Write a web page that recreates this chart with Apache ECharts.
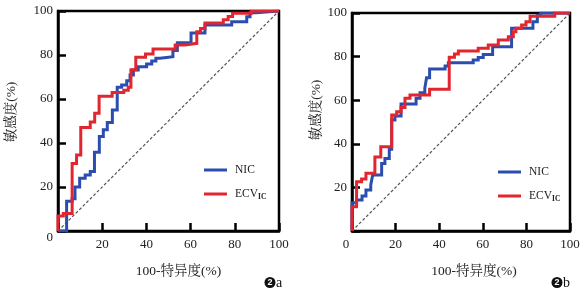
<!DOCTYPE html>
<html>
<head>
<meta charset="utf-8">
<script src="https://cdn.jsdelivr.net/npm/echarts@6/dist/echarts.min.js"></script>
<style>
html,body{margin:0;padding:0;background:#fff;}
#c{width:585px;height:289px;}
</style>
</head>
<body>
<div id="c"></div>
<script>
// ---- data ----
const seriesNames = ['NIC', 'ECV'];
const axisTicks = [0, 20, 40, 60, 80, 100];
const diagonal = [[0, 0], [100, 100]];
const panelLabels = ['a', 'b'];

// Panel a: NIC (blue)
const nicA = [[0,0],[3.9,0],[3.9,13.5],[6.4,13.5],[6.4,14.7],[7.7,14.7],[7.7,20],[9.8,20],[9.8,24],[12.3,24],[12.3,25.5],[14.6,25.5],[14.6,27],[16.5,27],[16.5,35.8],[18.7,35.8],[18.7,43],[20.5,43],[20.5,46],[22.3,46],[22.3,49.3],[24.6,49.3],[24.6,55],[26.8,55],[26.8,65.3],[28.8,65.3],[28.8,66.4],[31.1,66.4],[31.1,68.3],[32.6,68.3],[32.6,70.9],[34.1,70.9],[34.1,73.2],[36.3,73.2],[36.3,74.7],[40.1,74.7],[40.1,75.9],[42.4,75.9],[42.4,77.3],[44.3,77.3],[44.3,78.5],[46.2,78.5],[46.2,79.2],[52,79.2],[52,82],[54,82],[54,85.6],[60.2,85.6],[60.2,90],[66.5,90],[66.5,93.6],[78.6,93.6],[78.6,95.1],[85.4,95.1],[85.4,97.4],[86.9,97.4],[86.9,99.2],[89.6,99.2],[89.6,100],[100,100]];
// Panel a: ECV (red)
const ecvA = [[0,0],[0,6.8],[2.4,6.8],[2.4,8],[6.4,8],[6.4,30.7],[8.4,30.7],[8.4,34.5],[10.3,34.5],[10.3,47],[14.6,47],[14.6,49.5],[16.6,49.5],[16.6,53.5],[18.6,53.5],[18.6,61.2],[24.5,61.2],[24.5,62.9],[29.8,62.9],[29.8,64],[31.8,64],[31.8,65.3],[33,65.3],[33,73.3],[35.2,73.3],[35.2,79],[39.6,79],[39.6,80.5],[43,80.5],[43,82.7],[53,82.7],[53,84.5],[57.5,84.5],[57.5,85.3],[62.8,85.3],[62.8,90.6],[64.5,90.6],[64.5,92],[66.5,92],[66.5,94.5],[74.8,94.5],[74.8,96],[77,96],[77,97.5],[79,97.5],[79,99],[87.5,99],[87.5,100],[100,100]];
// Panel b: NIC (blue)
const nicB = [[0,0],[0,13],[2.1,13],[2.1,14.2],[4.6,14.2],[4.6,16],[6.4,16],[6.4,18.8],[8.6,18.8],[8.6,21.1],[9.5,21.1],[9.5,25.7],[13.6,25.7],[13.6,31],[15.1,31],[15.1,33.3],[17.1,33.3],[17.1,37.5],[18.2,37.5],[18.2,50.9],[19.7,50.9],[19.7,52.7],[22.5,52.7],[22.5,58.3],[29.4,58.3],[29.4,60.9],[31.2,60.9],[31.2,63.4],[33.4,63.4],[33.4,65.5],[34.2,65.5],[34.2,70.3],[35.6,70.3],[35.6,74.3],[42.7,74.3],[42.7,75.7],[44.2,75.7],[44.2,77.2],[55.6,77.2],[55.6,78.4],[57.9,78.4],[57.9,79.6],[60.2,79.6],[60.2,81],[64.5,81],[64.5,84.5],[73.2,84.5],[73.2,93],[83,93],[83,96],[85,96],[85,99],[86.5,99],[86.5,100],[100,100]];
// Panel b: ECV (red)
const ecvB = [[0,0],[0,11.1],[2.1,11.1],[2.1,22.6],[4.4,22.6],[4.4,23.8],[6.4,23.8],[6.4,26.5],[10.5,26.5],[10.5,34],[13.2,34],[13.2,38.7],[18.2,38.7],[18.2,53.2],[20.5,53.2],[20.5,54.7],[22.5,54.7],[22.5,56.7],[24.3,56.7],[24.3,60.9],[26.6,60.9],[26.6,62.4],[35.6,62.4],[35.6,65],[44.6,65],[44.6,79.7],[47,79.7],[47,81.2],[48.8,81.2],[48.8,82.6],[57.9,82.6],[57.9,83.8],[62.5,83.8],[62.5,85.3],[67.1,85.3],[67.1,87.6],[71.7,87.6],[71.7,89.1],[74,89.1],[74,91.4],[75.2,91.4],[75.2,93],[77.8,93],[77.8,94.5],[79.8,94.5],[79.8,96],[81.7,96],[81.7,98.5],[93,98.5],[93,100],[100,100]];

// ---- chart ----
const BLUE = '#2b4db0';
const RED = '#e2262f';
const FONT = '"Liberation Serif", "Noto Serif CJK SC", "Noto Sans CJK SC", serif';
const LBL = '#222';

function xAxisCfg(gi, zeroStyle) {
  return {
    type: 'value', gridIndex: gi, min: 0, max: 100, interval: 20,
    name: '100-特异度(%)', nameLocation: 'middle', nameGap: 34,
    nameTextStyle: { fontFamily: FONT, fontSize: 13.5, color: LBL, padding: gi === 0 ? [0,0,0,20] : [0,0,0,26] },
    axisLine: { show: true, lineStyle: { color: '#000', width: 2.5 } },
    axisTick: { show: true, inside: true, length: 8, lineStyle: { color: '#000', width: 2.5 } },
    axisLabel: {
      margin: 7, fontFamily: FONT, fontSize: 13, color: LBL,
      formatter: v => v === 0 ? zeroStyle : String(v),
      rich: { z: { fontFamily: FONT, fontSize: 13, color: LBL, padding: [0, 12, 0, 0] } }
    },
    splitLine: { show: false }
  };
}
function yAxisCfg(gi, zeroStyle, gap, pad) {
  return {
    type: 'value', gridIndex: gi, min: 0, max: 100, interval: 20,
    name: '敏感度(%)', nameLocation: 'middle', nameGap: gap, nameRotate: 90,
    nameTextStyle: { fontFamily: FONT, fontSize: 13.5, color: LBL, padding: [0,0,0,pad] },
    axisLine: { show: true, lineStyle: { color: '#000', width: 2.5 } },
    axisTick: { show: true, inside: true, length: 8, lineStyle: { color: '#000', width: 2.5 } },
    axisLabel: {
      margin: 5, fontFamily: FONT, fontSize: 13, color: LBL,
      formatter: v => v === 0 ? zeroStyle : String(v),
      rich: { z: { fontFamily: FONT, fontSize: 13, color: LBL, padding: [14, 0, 0, 0] } }
    },
    splitLine: { show: false }
  };
}
function lineSeries(name, data, color, gi) {
  return {
    type: 'line', name: name, data: data, xAxisIndex: gi, yAxisIndex: gi,
    showSymbol: false, symbol: 'none', animation: false,
    lineStyle: { color: color, width: 3, join: 'miter' }, itemStyle: { color: color }
  };
}
function diagSeries(gi) {
  return {
    type: 'line', data: diagonal, xAxisIndex: gi, yAxisIndex: gi, symbol: 'none', silent: true,
    animation: false, z: 1,
    lineStyle: { color: '#555', width: 1.2, type: [3, 2] }
  };
}
function legendCfg(gi, left, top) {
  return {
    orient: 'vertical', left: left, top: top, itemGap: 10,
    icon: 'rect', itemWidth: 23, itemHeight: 3,
    data: seriesNames.map(n => ({ name: n })),
    textStyle: {
      fontFamily: FONT, fontSize: 11.5, color: LBL, lineHeight: 14, padding: [0,0,0,3],
      rich: { sub: { fontFamily: FONT, fontSize: 7.5, color: LBL, fontWeight: 'bold', padding: [6, 0, 0, 0] } }
    },
    formatter: n => n === 'ECV' ? 'ECV{sub|IC}' : n
  };
}

const chart = echarts.init(document.getElementById('c'), null, { renderer: 'canvas' });
const opt = {
  animation: false,
  backgroundColor: '#fff',
  grid: [
    { left: 58, top: 11, width: 221, height: 220, show: true, borderColor: '#000', borderWidth: 2.5, backgroundColor: 'transparent' },
    { left: 352, top: 13, width: 218, height: 218, show: true, borderColor: '#000', borderWidth: 2.5, backgroundColor: 'transparent' }
  ],
  xAxis: [ xAxisCfg(0, ''), xAxisCfg(1, '{z|0}') ],
  yAxis: [ yAxisCfg(0, '{z|0}', 40, 18), yAxisCfg(1, '', 24, 24) ],
  legend: [ legendCfg(0, 199, 158), legendCfg(1, 493, 160) ],
  series: [
    diagSeries(0),
    lineSeries(seriesNames[0], nicA, BLUE, 0),
    lineSeries(seriesNames[1], ecvA, RED, 0),
    diagSeries(1),
    lineSeries(seriesNames[0], nicB, BLUE, 1),
    lineSeries(seriesNames[1], ecvB, RED, 1)
  ],
  graphic: [
    { type: 'circle', shape: { cx: 270, cy: 282.5, r: 5.5 }, style: { fill: '#111' } },
    { type: 'text', x: 270, y: 282.5, style: { text: '2', fill: '#fff', font: 'bold 9px "Liberation Sans", sans-serif', align: 'center', verticalAlign: 'middle' } },
    { type: 'text', x: 276, y: 283, style: { text: panelLabels[0], fill: '#111', font: '14px "Liberation Serif", serif', verticalAlign: 'middle' } },
    { type: 'circle', shape: { cx: 557, cy: 282.5, r: 5.5 }, style: { fill: '#111' } },
    { type: 'text', x: 557, y: 282.5, style: { text: '2', fill: '#fff', font: 'bold 9px "Liberation Sans", sans-serif', align: 'center', verticalAlign: 'middle' } },
    { type: 'text', x: 563, y: 283, style: { text: panelLabels[1], fill: '#111', font: '14px "Liberation Serif", serif', verticalAlign: 'middle' } }
  ]
};
chart.setOption(opt);
</script>
</body>
</html>
